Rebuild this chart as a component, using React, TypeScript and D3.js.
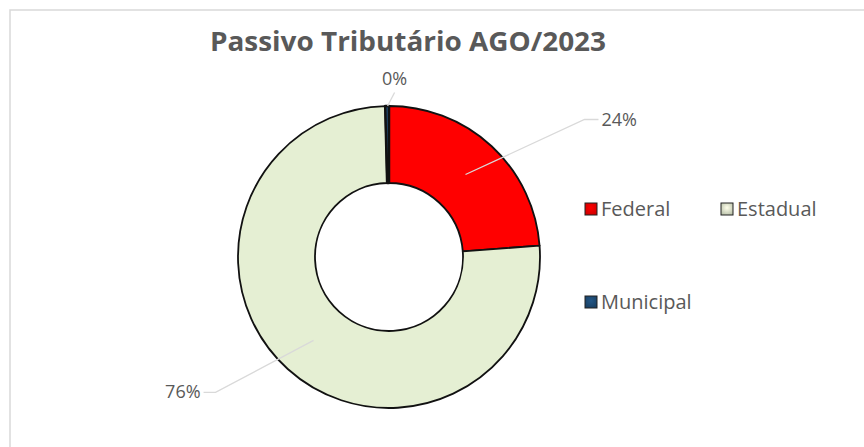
import React from "react";
import * as d3 from "d3";

const categories = ["Federal", "Estadual", "Municipal"];
const values = [23.8, 75.8, 0.4];
const labels = ["24%", "76%", "0%"];
const colors = ["#FF0000", "#E5EFD3", "#1F4E79"];
const title = "Passivo Tributário AGO/2023";

const W = 864;
const H = 447;
const cx = 389;
const cy = 257;
const outerR = 151;
const innerR = 74;
const textColor = "#595959";
const font = "'Open Sans', 'Liberation Sans', sans-serif";

// label layout: elbow offset from centroid (dx, dy), horizontal run
const labelLayout = [
  { ex: 119, ey: -55, run: 14 },
  { ex: -98, ey: 52, run: -12 },
  { ex: 7, ey: -52, run: 0 },
];

export default function App() {
  const pie = d3
    .pie<number>()
    .sort(null)
    .value((d) => d);
  const arcs = pie(values);
  const arc = d3
    .arc<d3.PieArcDatum<number>>()
    .innerRadius(innerR)
    .outerRadius(outerR);
  const midArc = d3
    .arc<d3.PieArcDatum<number>>()
    .innerRadius((innerR + outerR) / 2)
    .outerRadius((innerR + outerR) / 2);

  return (
    <svg
      width={W}
      height={H}
      style={{ position: "absolute", left: 0, top: 0, background: "#fff" }}
    >
      <defs>
        {colors.map((c, i) => (
          <radialGradient id={`sw${i}`} key={i} cx="50%" cy="40%" r="65%">
            <stop offset="0%" stopColor={d3.color(c)!.brighter(0.3).toString()} />
            <stop offset="100%" stopColor={d3.color(c)!.darker(0.6).toString()} />
          </radialGradient>
        ))}
      </defs>
      <rect x={10} y={10} width={W} height={H} fill="#fff" stroke="#d9d9d9" strokeWidth={1.5} />
      <text
        x={408}
        y={51}
        textAnchor="middle"
        fontFamily={font}
        fontWeight={700}
        fontSize={26}
        fill={textColor}
        textLength={396}
        lengthAdjust="spacingAndGlyphs"
      >
        {title}
      </text>
      <g transform={`translate(${cx},${cy})`}>
        {arcs.map((a, i) => (
          <path
            key={categories[i]}
            d={arc(a) || ""}
            fill={colors[i]}
            stroke="#111"
            strokeWidth={i === 2 ? 2.5 : 1.8}
            strokeLinejoin="round"
          />
        ))}
        {arcs.map((a, i) => {
          const [mx, my] = midArc.centroid(a);
          const L = labelLayout[i];
          const ex = mx + L.ex;
          const ey = my + L.ey;
          const pts =
            L.run === 0
              ? `${mx},${my - (outerR - innerR) / 2} ${ex},${ey}`
              : `${mx},${my} ${ex},${ey} ${ex + L.run},${ey}`;
          return (
            <polyline
              key={"l" + i}
              points={pts}
              fill="none"
              stroke="#d9d9d9"
              strokeWidth={1.3}
            />
          );
        })}
        {arcs.map((a, i) => {
          const [mx, my] = midArc.centroid(a);
          const L = labelLayout[i];
          const ex = mx + L.ex + L.run;
          const ey = my + L.ey;
          const anchor = L.run > 0 ? "start" : L.run < 0 ? "end" : "middle";
          const tx = L.run > 0 ? ex + 3 : L.run < 0 ? ex - 3 : ex;
          const ty = L.run === 0 ? ey - 8 : ey + 6;
          return (
            <text
              key={"t" + i}
              x={tx}
              y={ty}
              textAnchor={anchor}
              fontFamily={font}
              fontSize={18}
              fill={textColor}
            >
              {labels[i]}
            </text>
          );
        })}
      </g>
      {categories.map((c, i) => {
        const lx = i === 1 ? 721 : 585;
        const ly = i === 2 ? 302 : 209;
        return (
          <g key={"lg" + c}>
            <rect
              x={lx}
              y={ly - 6}
              width={12}
              height={12}
              fill={`url(#sw${i})`}
              stroke="#222"
              strokeWidth={1}
            />
            <text
              x={lx + 16}
              y={ly + 7}
              fontFamily={font}
              fontSize={20}
              fill={textColor}
            >
              {c}
            </text>
          </g>
        );
      })}
    </svg>
  );
}
